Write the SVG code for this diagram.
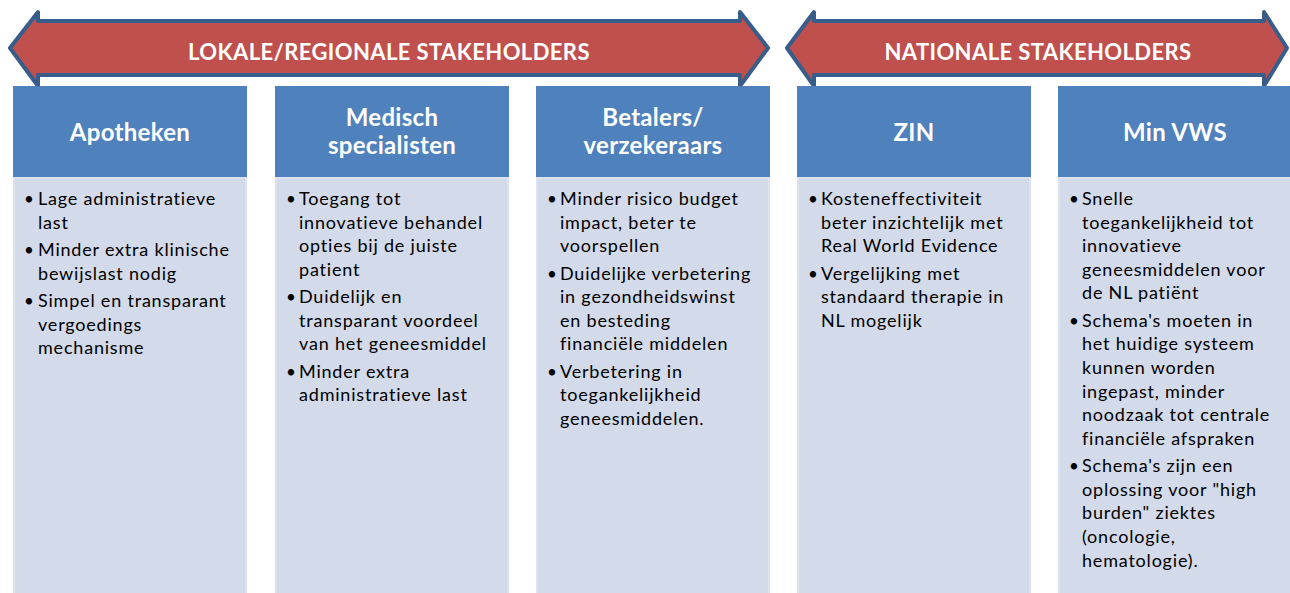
<svg xmlns="http://www.w3.org/2000/svg" width="1290" height="593" viewBox="0 0 1290 593">
<style>
.arrow{fill:#C0504D;stroke:#385D8A;stroke-width:4;stroke-linejoin:round}
.alabel{font-family:Lato,"Liberation Sans",sans-serif;font-weight:bold;font-size:22px;letter-spacing:0.4px;fill:#FFFFFF;text-anchor:middle}
.head{fill:#4F81BD}
.body{fill:#D3DAE9;stroke:#DCE2EF;stroke-width:2}
.title{font-family:Lato,"Liberation Sans",sans-serif;font-weight:bold;font-size:24px;letter-spacing:0.3px;fill:#FFFFFF;text-anchor:middle}
.txt{font-family:Lato,"Liberation Sans",sans-serif;font-size:18px;letter-spacing:0.8px;fill:#000000}
.bul{font-family:Lato,"Liberation Sans",sans-serif;font-size:17px;fill:#000000;text-anchor:middle}
</style>
<rect width="1290" height="593" fill="#FFFFFF"/>
<g id="arrow-lokaal">
<polygon class="arrow" points="10,48 38,12 38,21 740,21 740,12 768,48 740,86 740,75 38,75 38,86"/>
<text class="alabel" x="389" y="60">LOKALE/REGIONALE STAKEHOLDERS</text>
</g>
<g id="arrow-nationaal">
<polygon class="arrow" points="787,48 814,12 814,21 1264,21 1264,12 1287,48 1264,86 1264,75 814,75 814,86"/>
<text class="alabel" x="1038" y="60">NATIONALE STAKEHOLDERS</text>
</g>
<g id="connectors"></g>
<g id="col-apotheken">
<rect class="body" x="14" y="178" width="232" height="420"/>
<rect class="head" x="13" y="86" width="234" height="91"/>
<text class="title" x="130" y="141">Apotheken</text>
<text class="bul" x="29" y="205">•</text><text class="bul" x="29" y="256">•</text><text class="bul" x="29" y="307">•</text>
<text class="txt">
<tspan x="38" y="205">Lage administratieve</tspan>
<tspan x="38" y="228.6">last</tspan>
<tspan x="38" y="256">Minder extra klinische</tspan>
<tspan x="38" y="279.6">bewijslast nodig</tspan>
<tspan x="38" y="307">Simpel en transparant</tspan>
<tspan x="38" y="330.6">vergoedings</tspan>
<tspan x="38" y="354.2">mechanisme</tspan>
</text>
</g>
<g id="col-medisch">
<rect class="body" x="276" y="178" width="232" height="420"/>
<rect class="head" x="275" y="86" width="234" height="91"/>
<text class="title" x="392" y="126">Medisch</text>
<text class="title" x="392" y="154">specialisten</text>
<text class="bul" x="291" y="205">•</text><text class="bul" x="291" y="303.2">•</text><text class="bul" x="291" y="377.8">•</text>
<text class="txt">
<tspan x="299" y="205">Toegang tot</tspan>
<tspan x="299" y="228.6">innovatieve behandel</tspan>
<tspan x="299" y="252.2">opties bij de juiste</tspan>
<tspan x="299" y="275.8">patient</tspan>
<tspan x="299" y="303.2">Duidelijk en</tspan>
<tspan x="299" y="326.8">transparant voordeel</tspan>
<tspan x="299" y="350.4">van het geneesmiddel</tspan>
<tspan x="299" y="377.8">Minder extra</tspan>
<tspan x="299" y="401.4">administratieve last</tspan>
</text>
</g>
<g id="col-betalers">
<rect class="body" x="537" y="178" width="232" height="420"/>
<rect class="head" x="536" y="86" width="234" height="91"/>
<text class="title" x="653" y="126">Betalers/</text>
<text class="title" x="653" y="154">verzekeraars</text>
<text class="bul" x="552" y="205">•</text><text class="bul" x="552" y="279.6">•</text><text class="bul" x="552" y="377.8">•</text>
<text class="txt">
<tspan x="560" y="205">Minder risico budget</tspan>
<tspan x="560" y="228.6">impact, beter te</tspan>
<tspan x="560" y="252.2">voorspellen</tspan>
<tspan x="560" y="279.6">Duidelijke verbetering</tspan>
<tspan x="560" y="303.2">in gezondheidswinst</tspan>
<tspan x="560" y="326.8">en besteding</tspan>
<tspan x="560" y="350.4">financiële middelen</tspan>
<tspan x="560" y="377.8">Verbetering in</tspan>
<tspan x="560" y="401.4">toegankelijkheid</tspan>
<tspan x="560" y="425">geneesmiddelen.</tspan>
</text>
</g>
<g id="col-zin">
<rect class="body" x="798" y="178" width="232" height="420"/>
<rect class="head" x="797" y="86" width="234" height="91"/>
<text class="title" x="914" y="141">ZIN</text>
<text class="bul" x="813" y="205">•</text><text class="bul" x="813" y="279.6">•</text>
<text class="txt">
<tspan x="821" y="205">Kosteneffectiviteit</tspan>
<tspan x="821" y="228.6">beter inzichtelijk met</tspan>
<tspan x="821" y="252.2">Real World Evidence</tspan>
<tspan x="821" y="279.6">Vergelijking met</tspan>
<tspan x="821" y="303.2">standaard therapie in</tspan>
<tspan x="821" y="326.8">NL mogelijk</tspan>
</text>
</g>
<g id="col-minvws">
<rect class="body" x="1059" y="178" width="240" height="420"/>
<rect class="head" x="1058" y="86" width="240" height="91"/>
<text class="title" x="1175" y="141">Min VWS</text>
<text class="bul" x="1074" y="205">•</text><text class="bul" x="1074" y="326.8">•</text><text class="bul" x="1074" y="472.2">•</text>
<text class="txt">
<tspan x="1082" y="205">Snelle</tspan>
<tspan x="1082" y="228.6">toegankelijkheid tot</tspan>
<tspan x="1082" y="252.2">innovatieve</tspan>
<tspan x="1082" y="275.8">geneesmiddelen voor</tspan>
<tspan x="1082" y="299.4">de NL patiënt</tspan>
<tspan x="1082" y="326.8">Schema's moeten in</tspan>
<tspan x="1082" y="350.4">het huidige systeem</tspan>
<tspan x="1082" y="374">kunnen worden</tspan>
<tspan x="1082" y="397.6">ingepast, minder</tspan>
<tspan x="1082" y="421.2">noodzaak tot centrale</tspan>
<tspan x="1082" y="444.8">financiële afspraken</tspan>
<tspan x="1082" y="472.2">Schema's zijn een</tspan>
<tspan x="1082" y="495.8">oplossing voor "high</tspan>
<tspan x="1082" y="519.4">burden" ziektes</tspan>
<tspan x="1082" y="543">(oncologie,</tspan>
<tspan x="1082" y="566.6">hematologie).</tspan>
</text>
</g>
</svg>
